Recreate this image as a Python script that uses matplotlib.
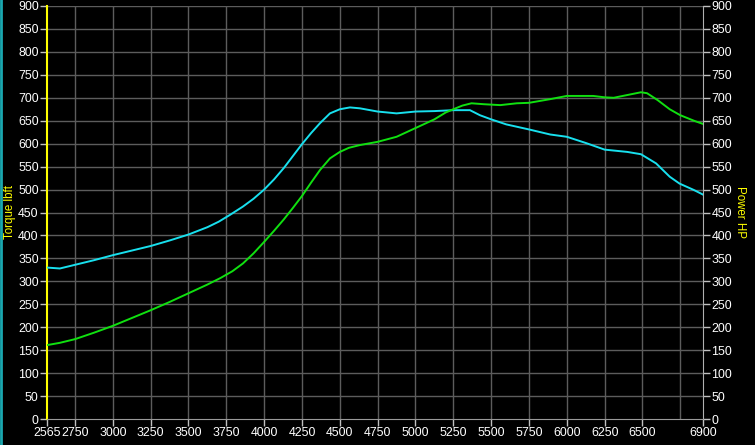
import matplotlib
matplotlib.use('Agg')
import matplotlib.pyplot as plt
from matplotlib.lines import Line2D

plt.rcParams['font.family'] = ['Liberation Sans', 'DejaVu Sans']

# dyno sweep
rpm_t = [2565, 2650, 2750, 2875, 3000, 3125, 3250, 3375, 3500, 3625, 3700, 3775,
         3860, 3930, 4000, 4065, 4130, 4190, 4250, 4310, 4370, 4435, 4500, 4567,
         4633, 4750, 4875, 5000, 5125, 5250, 5360, 5426, 5500, 5600, 5750, 5890,
         6000, 6130, 6250, 6400, 6490, 6590, 6680, 6745, 6840, 6900]
torque = [330, 328, 336, 346, 357, 367, 377, 389, 402, 418, 430, 445,
          463, 480, 500, 522, 547, 573, 599, 623, 645, 666, 675, 679,
          677, 670, 666, 670, 671, 673, 673, 662, 653, 642, 631, 620,
          615, 601, 587, 582, 577, 557, 528, 513, 499, 489]

rpm_p = [2565, 2650, 2750, 2875, 3000, 3125, 3250, 3375, 3500, 3625, 3710, 3790,
         3860, 3930, 4000, 4065, 4130, 4190, 4250, 4310, 4370, 4435, 4500, 4560,
         4633, 4750, 4875, 5000, 5125, 5200, 5250, 5310, 5370, 5450, 5560, 5670,
         5750, 5890, 6000, 6175, 6250, 6310, 6400, 6490, 6530, 6600, 6680, 6750,
         6840, 6900]
power = [161, 166, 174, 188, 203, 220, 237, 255, 274, 293, 307, 322,
         339, 361, 386, 410, 435, 460, 486, 515, 543, 568, 582, 591,
         597, 604, 615, 634, 653, 668, 675, 683, 688, 686, 684, 688,
         689, 697, 704, 704, 701, 700, 706, 712, 710, 695, 675, 662,
         650, 643]

x_ticks = [2565, 2750, 3000, 3250, 3500, 3750, 4000, 4250, 4500, 4750,
           5000, 5250, 5500, 5750, 6000, 6250, 6500, 6900]
x_grid = [2750 + 250 * i for i in range(17)]
y_ticks = list(range(0, 901, 50))

fig = plt.figure(figsize=(7.55, 4.45), dpi=100, facecolor='black')
ax = fig.add_axes([47 / 755, 26 / 445, 656 / 755, 413 / 445])
ax.set_facecolor('black')

grid_col = '#5c5c5c'
for g in x_grid:
    ax.axvline(g, color=grid_col, lw=1, zorder=1)
for g in y_ticks[1:]:
    ax.axhline(g, color=grid_col, lw=1, zorder=1)

ax.plot(rpm_t, torque, color='#18e0ee', lw=1.4, zorder=3)
ax.plot(rpm_p, power, color='#10e010', lw=1.4, zorder=3)

ax.set_xlim(2565, 6900)
ax.set_ylim(0, 900)
ax.set_xticks(x_ticks)
ax.set_yticks(y_ticks)

ax.spines['top'].set_visible(False)
ax.spines['left'].set_color('#ffff00')
ax.spines['left'].set_linewidth(1.5)
ax.spines['bottom'].set_color('#9a9a9a')
ax.spines['right'].set_color('#b0b0b0')

ax.tick_params(axis='both', colors='#c0c0c0', labelcolor='white',
               labelsize=8.9, length=5, width=1, pad=1)
ax.tick_params(axis='y', left=True, right=True, labelleft=True, labelright=True)

fig.text(10 / 755, 0.523, 'Torque lbft', color='#ffff00', fontsize=8.3,
         rotation=90, ha='center', va='center')
fig.text(740 / 755, 0.523, 'Power HP', color='#ffff00', fontsize=8.3,
         rotation=270, ha='center', va='center')

fig.add_artist(Line2D([0.0013, 0.0013], [0, 1], color='#1aa8b0', lw=2,
                      transform=fig.transFigure))

fig.savefig('out.png', dpi=100, facecolor='black')
